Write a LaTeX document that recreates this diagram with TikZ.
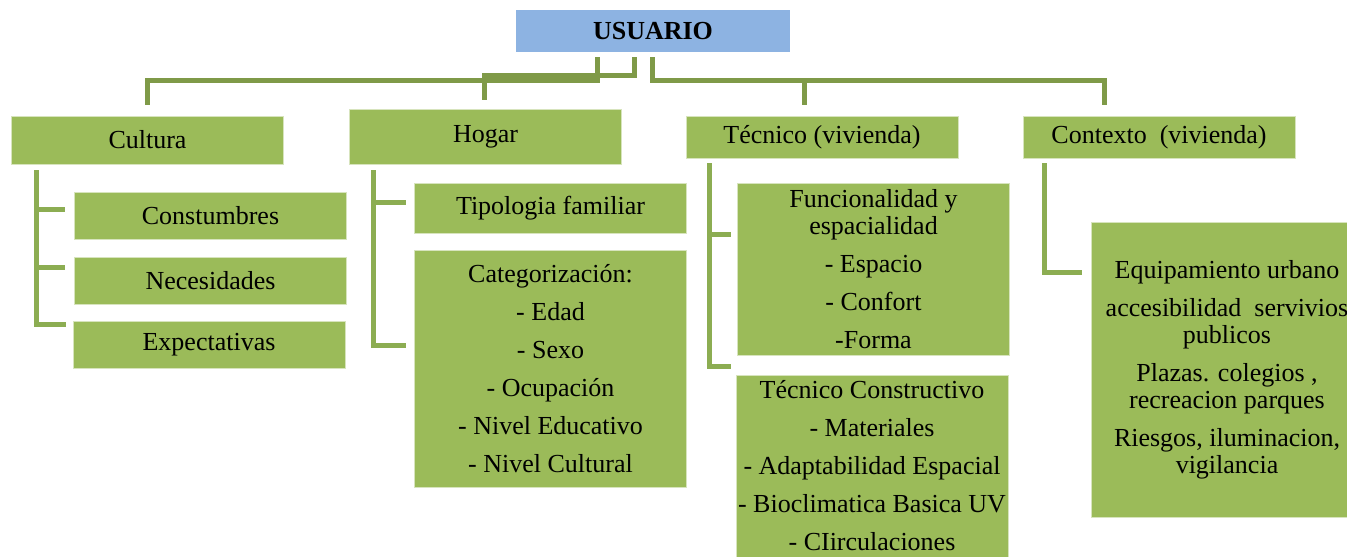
\documentclass[tikz,border=0pt]{standalone}
\usepackage{fontspec}
\setmainfont{Liberation Serif}
\usetikzlibrary{calc}
\definecolor{boxgreen}{HTML}{9BBB59}
\definecolor{boxline}{HTML}{D7E4BD}
\definecolor{toplink}{HTML}{7F9A48}
\definecolor{sublinkc}{HTML}{8CAD52}
\definecolor{headblue}{HTML}{8DB3E2}
\tikzset{
  box/.style={fill=boxgreen, draw=boxline, line width=0.4pt, inner sep=0pt,
    align=center, minimum width=136pt},
  link/.style={draw=toplink, line width=2.5pt},
  sublink/.style={draw=sublinkc, line width=2.5pt}
}
\begin{document}
\begin{tikzpicture}[x=0.5pt,y=-0.5pt,font=\fontsize{13}{13.5}\selectfont]
      \useasboundingbox (0,0) rectangle (1347,556);
      \def\gap{\\[5.5pt]}

      % HEAD
      \node[fill=headblue, minimum width=137pt, minimum height=21pt, inner sep=0pt, font=\fontsize{13}{13.5}\selectfont\bfseries] (usuario) at (653,31) {USUARIO};

      % MAIN BOXES
      \node[box, minimum height=24pt] (cultura) at (147.5,140) {Cultura};
      \node[box, minimum height=27.5pt] (hogar) at (485.5,136.5) {Hogar};
      \node[box, minimum height=21pt] (tecnico) at (822,137) {Técnico (vivienda)};
      \node[box, minimum height=21pt] (contexto) at (1159,137) {Contexto\ \ (vivienda)};

      % CULTURA
      \node[box, minimum height=23.5pt] (constumbres) at (210.5,215.5) {Constumbres};
      \node[box, minimum height=23.5pt] (necesidades) at (210.5,280.5) {Necesidades};
      \node[box, minimum height=23.5pt] (expectativas) at (209,344.5) {Expectativas};

      % HOGAR
      \node[box, minimum height=25pt] (tipologia) at (550.5,208) {Tipologia familiar};
      \node[box, minimum height=118.5pt] (categorias) at (550.5,368.5)
        {Categorización:\gap - Edad\gap - Sexo\gap - Ocupación\gap - Nivel Educativo\gap - Nivel Cultural};

      % TECNICO
      \node[box, minimum height=86pt] (funcional) at (873.5,269)
        {Funcionalidad y\\ espacialidad\gap - Espacio\gap - Confort\gap -Forma};
      \node[box, minimum height=91pt] (constructivo) at (872,466)
        {Técnico Constructivo\gap - Materiales\gap - Adaptabilidad Espacial\gap - Bioclimatica Basica UV\gap - CIirculaciones};

      % CONTEXTO
      \node[box, minimum height=147.5pt] (equipamiento) at (1227,369.5)
        {Equipamiento urbano\gap accesibilidad\ \ servivios\\ publicos\gap Plazas. colegios ,\\ recreacion parques\gap Riesgos, iluminacion,\\ vigilancia};

      % TOP LINKS
      \draw[link] ($(usuario.south)+(-56,5)$) -- ++(0,23) -| ($(cultura.north)+(0,-11)$);
      \draw[link] ($(usuario.south)+(-19,5)$) -- ++(0,18) -| ($(hogar.north)+(-1,-9)$);
      \draw[link] ($(usuario.south)+(-1,5)$) -- ++(0,23) -| ($(tecnico.north)+(-18,-11)$);
      \draw[link] ($(usuario.south)+(-1,5)$) -- ++(0,23) -| ($(contexto.north)+(-55,-11)$);

      % SUB LINKS
      \coordinate (cu) at ($(cultura.south west)+(25,6)$);
      \coordinate (ho) at ($(hogar.south west)+(24,6)$);
      \coordinate (te) at ($(tecnico.south west)+(24,5)$);
      \coordinate (co) at ($(contexto.south west)+(22,5)$);
      \draw[sublink] (cu) |- ($(constumbres.north west)+(-9,18)$);
      \draw[sublink] (cu) |- ($(necesidades.north west)+(-9,11)$);
      \draw[sublink] (cu) |- ($(expectativas.north west)+(-7,4)$);
      \draw[sublink] (ho) |- ($(tipologia.north west)+(-8,20)$);
      \draw[sublink] (ho) |- ($(categorias.north west)+(-8,96)$);
      \draw[sublink] (te) |- ($(funcional.north west)+(-6,52)$);
      \draw[sublink] (te) |- ($(constructivo.north west)+(-5,-8)$);
      \draw[sublink] (co) |- ($(equipamiento.north west)+(-9,51)$);
    \end{tikzpicture}
\end{document}
